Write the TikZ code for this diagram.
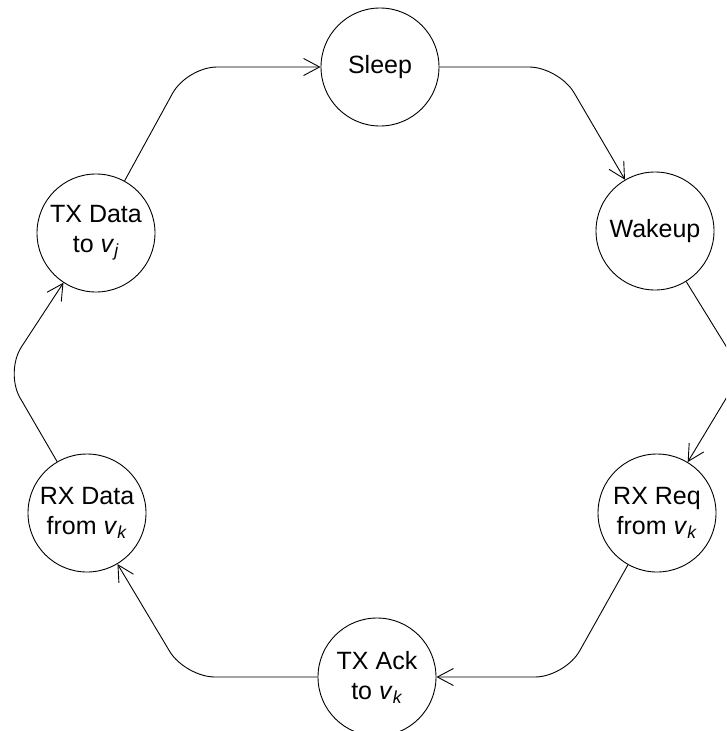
\documentclass[tikz,border=0pt]{standalone}
\usepackage{fontspec}
\setmainfont{Liberation Sans}
\usetikzlibrary{arrows.meta}
\begin{document}
\begin{tikzpicture}[x=1pt,y=-1pt,
  state/.style={circle, draw, line width=0.9pt, minimum size=118pt, inner sep=0pt,
    align=center, font=\fontsize{25}{30}\selectfont},
  edge/.style={line width=0.9pt, rounded corners=30pt,
    -{Straight Barb[length=16pt,width=17pt,line width=0.9pt]}}]
\useasboundingbox (0,0) rectangle (726,731);
\clip (0,0) rectangle (726,731);
\node[state] (sleep)  at (380,67)  {Sleep};
\node[state] (wakeup) at (655,231) {Wakeup};
\node[state] (rxreq)  at (657,513) {RX Req\\from \textit{v}\textsubscript{\textit{k}}};
\node[state] (txack)  at (377,677) {TX Ack\\to \textit{v}\textsubscript{\textit{k}}};
\node[state] (rxdata) at (87,513)  {RX Data\\from \textit{v}\textsubscript{\textit{k}}};
\node[state] (txdata) at (96,233)  {TX Data\\to \textit{v}\textsubscript{\textit{j}}};
\coordinate (c1) at (187,67);
\coordinate (c2) at (559,67);
\coordinate (c3) at (742,372);
\coordinate (c4) at (565,677);
\coordinate (c5) at (185,677);
\coordinate (c6) at (5,372);
\draw[edge] (txdata) -- (c1) -- (sleep);
\draw[edge] (sleep) -- (c2) -- (wakeup);
\draw[edge] (wakeup) -- (c3) -- (rxreq);
\draw[edge] (rxreq) -- (c4) -- (txack);
\draw[edge] (txack) -- (c5) -- (rxdata);
\draw[edge] (rxdata) -- (c6) -- (txdata);
\end{tikzpicture}
\end{document}
